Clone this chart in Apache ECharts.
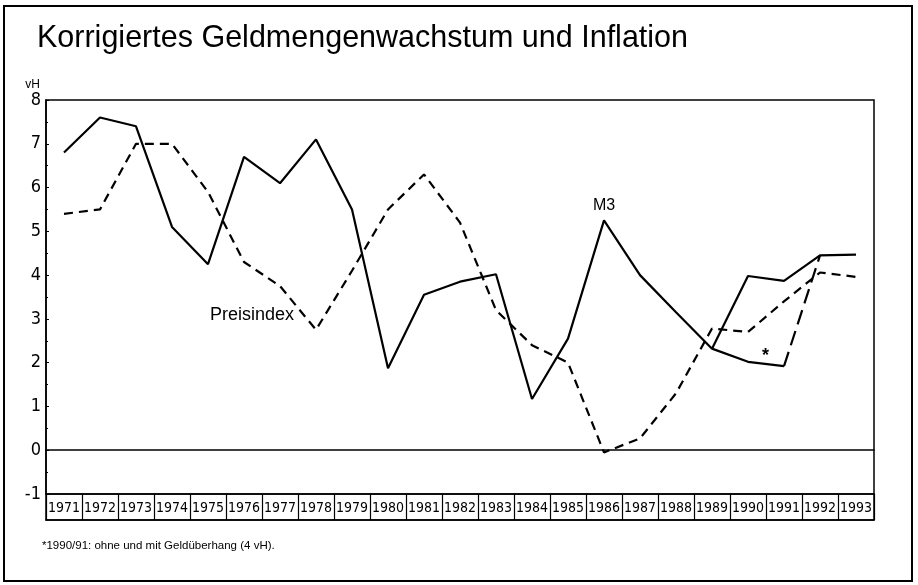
<!DOCTYPE html>
<html>
<head>
<meta charset="utf-8">
<script src="https://cdn.jsdelivr.net/npm/echarts@6/dist/echarts.min.js"></script>
<style>
  html, body { margin: 0; padding: 0; background: #fff; }
  #chart { width: 918px; height: 585px; }
</style>
</head>
<body>
<div id="chart"></div>
<script>
// Jahre 1971 bis 1993
const years = ['1971','1972','1973','1974','1975','1976','1977','1978','1979','1980','1981','1982',
               '1983','1984','1985','1986','1987','1988','1989','1990','1991','1992','1993'];

// Korrigiertes Geldmengenwachstum M3 (vH)
const m3 = [6.8, 7.6, 7.4, 5.1, 4.25, 6.7, 6.1, 7.1, 5.5, 1.87, 3.55, 3.85,
            4.02, 1.17, 2.55, 5.25, 4.0, 3.15, 2.32, 3.98, 3.87, 4.45, 4.47];

// M3 1990/91, zweite Variante (Geldüberhang)
const m3Alt = [null, null, null, null, null, null, null, null, null, null, null, null,
               null, null, null, null, null, null, 2.32, 2.02, 1.92, null, null];

// Übergang der zweiten Variante auf 1992
const m3AltLink = [null, null, null, null, null, null, null, null, null, null, null, null,
                   null, null, null, null, null, null, null, null, 1.92, 4.45, null];

// Preisindex (vH)
const preisindex = [5.4, 5.5, 7.0, 7.0, 5.9, 4.3, 3.75, 2.75, 4.1, 5.5, 6.3, 5.2,
                    3.2, 2.4, 2.0, -0.05, 0.27, 1.3, 2.78, 2.7, 3.4, 4.06, 3.96];

// Werte der y-Achse
const yMin = -1, yMax = 8, yStep = 1;

const narrow = "'Liberation Sans Narrow', 'DejaVu Sans Condensed', 'Liberation Sans', sans-serif";
const sans = "'Liberation Sans', Arial, sans-serif";

const chart = echarts.init(document.getElementById('chart'), null, { renderer: 'canvas' });

const lineBase = { type: 'line', xAxisIndex: 0, yAxisIndex: 0, symbol: 'none',
                   animation: false, connectNulls: false, z: 3 };

chart.setOption({
  animation: false,
  backgroundColor: '#fff',
  title: {
    text: 'Korrigiertes Geldmengenwachstum und Inflation',
    left: 32, top: 18,
    textStyle: { fontFamily: sans, fontSize: 30.5, fontWeight: 'normal', color: '#000' }
  },
  grid: [
    { left: 46, right: 44, top: 100, height: 394, show: true,
      borderColor: '#000', borderWidth: 1.5, backgroundColor: 'transparent' },
    { left: 46, right: 44, top: 494, height: 26, show: true,
      borderColor: '#000', borderWidth: 1.5, backgroundColor: 'transparent' }
  ],
  xAxis: [
    { type: 'category', gridIndex: 0, data: years, boundaryGap: true,
      axisLine: { show: true, onZero: true, lineStyle: { color: '#000', width: 1.5 } },
      axisTick: { show: false }, axisLabel: { show: false }, splitLine: { show: false } },
    { type: 'category', gridIndex: 1, data: years, boundaryGap: true,
      axisLine: { show: true, lineStyle: { color: '#000', width: 1.5 } },
      axisTick: { show: false },
      splitLine: { show: true, interval: 0, lineStyle: { color: '#000', width: 1.2 } },
      axisLabel: { inside: true, interval: 0, margin: 5, color: '#000',
                   fontFamily: narrow, fontSize: 14 } }
  ],
  yAxis: [
    { type: 'value', gridIndex: 0, min: yMin, max: yMax, interval: yStep,
      name: 'vH', nameLocation: 'end', nameGap: 8,
      nameTextStyle: { fontFamily: sans, fontSize: 12, color: '#000', align: 'right', padding: [0, 6, 0, 0] },
      axisLine: { show: true, lineStyle: { color: '#000', width: 1.5 } },
      axisTick: { show: true, inside: true, length: 3, lineStyle: { color: '#000' } },
      minorTick: { show: true, splitNumber: 2, length: 2, lineStyle: { color: '#000' } },
      axisLabel: { margin: 5, color: '#000', fontFamily: narrow, fontSize: 18 },
      splitLine: { show: false } },
    { type: 'value', gridIndex: 1, min: 0, max: 1, show: false }
  ],
  series: [
    Object.assign({}, lineBase, { name: 'M3', data: m3,
      lineStyle: { color: '#000', width: 2.2, type: 'solid' } }),
    Object.assign({}, lineBase, { name: 'M3 1990/91', data: m3Alt,
      lineStyle: { color: '#000', width: 2.2, type: 'solid' } }),
    Object.assign({}, lineBase, { name: 'M3 1991/92', data: m3AltLink,
      lineStyle: { color: '#000', width: 2.2, type: [15, 7] } }),
    Object.assign({}, lineBase, { name: 'Preisindex', data: preisindex,
      lineStyle: { color: '#000', width: 2.2, type: [9, 6] } })
  ],
  graphic: [
    { type: 'rect', shape: { x: 4, y: 6, width: 908, height: 575 },
      style: { fill: 'none', stroke: '#000', lineWidth: 2 }, silent: true, z: 0 },
    { type: 'text', left: 593, top: 198,
      style: { text: 'M3', fontFamily: sans, fontSize: 16, fill: '#000' } },
    { type: 'text', left: 210, top: 306,
      style: { text: 'Preisindex', fontFamily: sans, fontSize: 18, fill: '#000' } },
    { type: 'text', left: 762, top: 347,
      style: { text: '*', fontFamily: sans, fontSize: 18, fontWeight: 'bold', fill: '#000' } },
    { type: 'text', left: 42, top: 540,
      style: { text: '*1990/91: ohne und mit Geldüberhang (4 vH).', fontFamily: sans, fontSize: 11.5, fill: '#000' } }
  ]
});
</script>
</body>
</html>
